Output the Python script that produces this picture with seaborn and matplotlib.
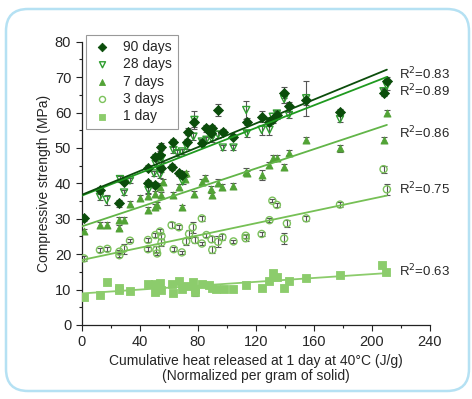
import numpy as np
import pandas as pd
import matplotlib
matplotlib.use("Agg")
import matplotlib.pyplot as plt
from matplotlib.patches import FancyBboxPatch
from matplotlib.ticker import MultipleLocator
import seaborn as sns

# 90 days
x90 = [1.6, 12.6, 26, 29.2, 46, 46, 50.6, 50.6, 54, 55, 55, 62, 67.1, 69, 63.2, 72.4, 73.5, 77.7,
       82.8, 85.8, 89, 90, 94.2, 97.6, 104.6, 113.8, 124, 129.4, 131.7, 134.5, 139.5, 142.8,
       154.7, 178, 208, 210.3]
y90 = [30.1, 38.1, 34.4, 40.5, 40.2, 44.3, 47.5, 39.5, 48, 50.4, 44.3, 44.7, 42.8, 42.4, 51.8, 51.8,
       54.6, 57.4, 51.4, 55.5, 54.1, 55.5, 60.7, 54.6, 53.2, 57.4, 58.8, 57.2, 58.1, 59.3, 65.6,
       61.9, 63.6, 60.2, 65.6, 69]
e90 = [0.8, 0.8, 1.0, 0.8, 0.8, 0.8, 0.8, 0.8, 1.0, 1.0, 1.0, 0.8, 0.8, 0.8, 0.8, 0.8, 1.0, 1.5,
       0.8, 1.0, 1.0, 1.0, 1.8, 0.8, 0.8, 1.0, 1.5, 1.0, 1.0, 1.0, 1.5, 1.0, 1.5, 0.8, 1.0, 1.0]

# 28 days
x28 = [12.6, 17.2, 26.4, 29.2, 33.3, 46, 49.9, 51, 54, 55.2, 63.2, 66, 69, 69.6, 72.4, 77, 77.7,
       82.8, 86, 89.5, 94, 97.2, 104.6, 113.4, 113.8, 124, 129.4, 131.7, 134.5, 139.5, 142.8,
       154.7, 178, 208, 210.3]
y28 = [36.2, 35.3, 41.2, 37.4, 40.8, 38.1, 42.8, 45.5, 42.4, 47.1, 49.4, 48.5, 49, 40.5, 50.4, 53.2,
       57.9, 51.8, 52.3, 52.7, 53.8, 50.1, 50.1, 60.7, 54.1, 55.1, 55.1, 58.8, 59.7, 63.8, 59.3,
       64, 58.1, 66, 67.5]
e28 = [0.8, 1.5, 0.8, 0.8, 0.8, 0.8, 0.8, 0.8, 1.0, 1.0, 0.8, 0.8, 0.8, 0.8, 0.8, 1.0, 2.5,
       0.8, 0.8, 1.0, 1.0, 0.6, 0.6, 2.5, 1.0, 1.5, 1.5, 1.0, 1.0, 1.0, 0.8, 5, 0.8, 1.0, 1.0]

# 7 days
x7 = [1.6, 12.6, 17.7, 26, 26, 29, 33, 45.7, 50.8, 52, 69, 40, 45.8, 50.7, 54, 55, 55.8, 63, 67,
      71.3, 72, 77.7, 82.8, 85, 89, 90, 94, 97, 104.6, 113.4, 113.8, 124, 129.4, 131.7, 134.5,
      139.5, 142.8, 154.7, 178, 208, 210.3]
y7 = [26.4, 28.2, 28.2, 29.7, 27.5, 29.7, 34.2, 32.5, 33.4, 33.8, 33.2, 35.8, 36.3, 37, 39, 36.7,
      40.5, 36.7, 39, 41.1, 42.8, 37, 40.5, 41.5, 38.3, 36.7, 40.2, 39, 39.2, 43.3, 42.8, 42.4,
      45.2, 47.1, 47.1, 44.7, 48.7, 52.3, 49.9, 52.3, 59.8]
e7 = [0.8, 0.8, 0.8, 0.8, 0.8, 0.8, 0.8, 0.8, 0.8, 0.8, 0.8, 0.8, 0.8, 0.8, 1.0, 0.8, 0.8, 0.8,
      0.8, 0.8, 0.8, 0.8, 0.8, 0.8, 1.0, 0.8, 1.0, 0.8, 0.8, 1.0, 0.8, 1.5, 0.8, 0.8, 0.8, 0.8,
      0.8, 0.8, 1.0, 0.8, 0.8]

# 3 days
x3 = [1.6, 12.6, 17.7, 26, 26, 29, 33.3, 45.7, 45.7, 50.8, 51.5, 52, 54, 55, 55, 62, 63.4, 67, 69,
      72, 74, 76.5, 78, 82.8, 82.8, 86, 89.5, 90, 94, 97, 104.6, 113, 113, 124, 129.4, 131.4,
      134.5, 139.5, 141.4, 154.7, 178, 208, 210.3]
y3 = [18.8, 21.2, 21.5, 19.7, 20.7, 21.5, 23.8, 24, 21.4, 25.4, 21.2, 20.2, 26.4, 25.1, 23.3, 28.2,
      21.4, 27.6, 20.5, 23.6, 25.7, 27.6, 24, 30.1, 23, 25.4, 24.2, 21.2, 23.5, 24.8, 23.6, 25.2,
      24.5, 25.7, 29.6, 35.1, 33.9, 24.4, 28.7, 30.1, 34, 44, 38.3]
e3 = [0.6, 0.5, 0.5, 0.6, 0.6, 1.5, 0.5, 0.6, 0.5, 0.6, 1.0, 0.5, 0.6, 0.8, 1.0, 0.8, 0.5, 0.5,
      0.5, 1.0, 1.0, 1.5, 0.8, 0.6, 0.5, 0.6, 0.8, 1.0, 1.5, 0.8, 0.5, 0.6, 0.8, 0.6, 0.5, 0.5,
      0.6, 1.5, 1.0, 0.8, 0.6, 1.0, 1.5]

# 1 day
x1 = [1.6, 12.6, 17.5, 26, 26, 33, 45.7, 50.7, 50.7, 54, 55, 62.5, 63, 67, 69, 72.4, 77, 78, 78,
      82.8, 88, 89.5, 92.6, 98, 104.6, 113, 124, 129, 131.7, 134.5, 139.5, 142.8, 154.7, 178,
      207, 210]
y1 = [7.9, 8.6, 12.2, 10.4, 9.9, 9.7, 11.7, 11.7, 9.2, 11.9, 9.9, 11.5, 8.9, 12.3, 10.2, 10.9, 12.2,
      10.2, 9.4, 11.6, 11.2, 10.5, 10.2, 10.2, 10.1, 11.2, 10.4, 12.3, 14.7, 13.5, 10.5, 12.3,
      13.4, 14.1, 16.8, 15.1]
e1 = [0.4, 0.4, 0.4, 0.4, 0.4, 0.4, 0.4, 0.4, 0.4, 0.5, 0.4, 0.4, 0.5, 0.4, 0.4, 0.6, 0.6, 0.6,
      1.2, 0.4, 0.5, 0.5, 0.5, 0.3, 0.3, 0.5, 0.3, 0.3, 0.5, 0.4, 0.6, 0.5, 0.6, 0.5, 0.5, 0.4]

labels = ["90 days", "28 days", "7 days", "3 days", "1 day"]
r2_text = ["0.83", "0.89", "0.86", "0.75", "0.63"]
r2_y = [70.9, 66.1, 54.2, 38.4, 15.3]

series = {
    "90 days": (x90, y90, e90, "D", "#0b4d0b", True, "#0b4d0b"),
    "28 days": (x28, y28, e28, "v", "#2f9e2f", False, "#1f9a1f"),
    "7 days": (x7, y7, e7, "^", "#52a336", True, "#62b548"),
    "3 days": (x3, y3, e3, "o", "#7cc25c", False, "#76c055"),
    "1 day": (x1, y1, e1, "s", "#8ccc6c", True, "#8ccc6c"),
}

sns.set_style("ticks")
plt.rcParams["font.family"] = ["Liberation Sans", "DejaVu Sans"]

fig = plt.figure(figsize=(4.72, 3.99), dpi=100)
ax = fig.add_axes([0.173, 0.1855, 0.738, 0.71])

for name in labels[::-1]:
    x, y, e, mk, col, filled, lcol = series[name]
    df = pd.DataFrame({"x": x, "y": y})
    ax.errorbar(x, y, yerr=e, fmt="none", ecolor="#555555", elinewidth=0.8,
                capsize=2.2, capthick=0.8, zorder=2)
    if filled:
        sns.scatterplot(data=df, x="x", y="y", marker=mk, color=col, edgecolor=col,
                        s=26, linewidth=0.6, ax=ax, zorder=3, label=name)
    else:
        sns.scatterplot(data=df, x="x", y="y", marker=mk, facecolor="none", edgecolor=col,
                        s=26, linewidth=1.0, ax=ax, zorder=3, label=name)
    k, b = np.polyfit(x, y, 1)
    xs = np.array([0, max(x)])
    ax.plot(xs, k * xs + b, color=lcol, lw=1.3, zorder=4)

for t, yy in zip(r2_text, r2_y):
    ax.text(218.5, yy, "R$^2$=" + t, fontsize=9.5, va="center", ha="left", clip_on=False)

h, l = ax.get_legend_handles_labels()
order = [l.index(n) for n in labels]
leg = ax.legend([h[i] for i in order], labels, loc="upper left", bbox_to_anchor=(0.0, 1.04),
                frameon=True, fancybox=False, edgecolor="#808080", fontsize=10,
                handletextpad=0.7, borderpad=0.4, labelspacing=0.24, handlelength=1.6,
                borderaxespad=0.3, markerscale=0.85)
leg.get_frame().set_linewidth(0.8)

ax.set_xlim(0, 240)
ax.set_ylim(0, 80)
ax.xaxis.set_major_locator(MultipleLocator(40))
ax.xaxis.set_minor_locator(MultipleLocator(20))
ax.yaxis.set_major_locator(MultipleLocator(10))
ax.yaxis.set_minor_locator(MultipleLocator(5))
ax.tick_params(which="major", direction="out", length=4, width=0.8, labelsize=10.5, color="#222222")
ax.tick_params(which="minor", direction="out", length=2.5, width=0.8, color="#222222")
sns.despine(ax=ax)
for sp in ["left", "bottom"]:
    ax.spines[sp].set_linewidth(0.9)
    ax.spines[sp].set_color("#222222")

ax.set_xlabel("Cumulative heat released at 1 day at 40\u00b0C (J/g)\n(Normalized per gram of solid)",
              fontsize=10, labelpad=3, linespacing=1.15)
ax.set_ylabel("Compressive strength (MPa)", fontsize=10, labelpad=3)

frame = FancyBboxPatch((0.06, 0.08), 4.63, 3.82, boxstyle="round,pad=0,rounding_size=0.22",
                       transform=fig.dpi_scale_trans, facecolor="none", edgecolor="#b5e1f3",
                       linewidth=1.8, zorder=0)
fig.patches.append(frame)

fig.savefig("out.png", dpi=100)
